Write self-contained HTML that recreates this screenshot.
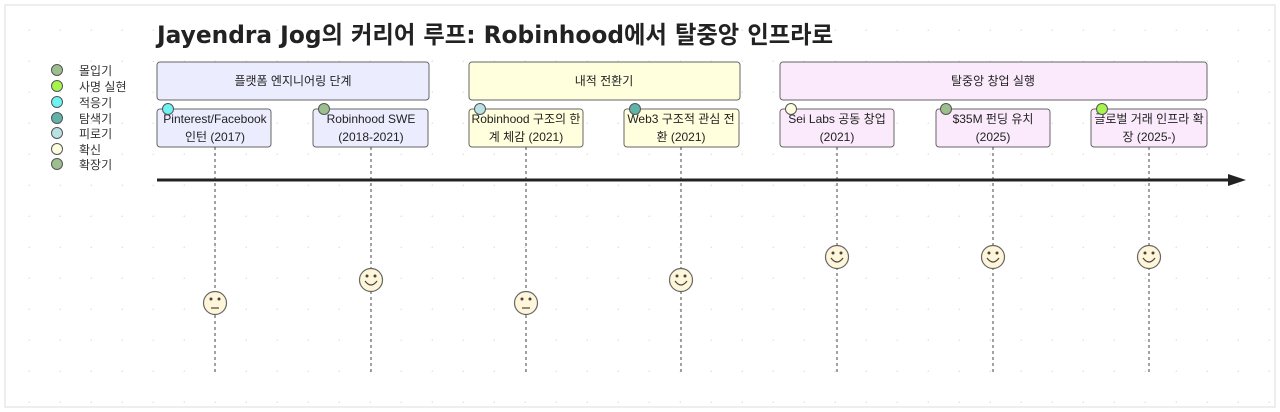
<!DOCTYPE html>
<html><head><meta charset="utf-8"><style>
html,body{margin:0;padding:0;background:#fff;}
svg{display:block;font-family:"Liberation Sans","Noto Sans CJK KR",sans-serif;}
</style></head><body>
<svg width="1280" height="412" viewBox="0 0 1280 412" xmlns="http://www.w3.org/2000/svg">
<defs>
<pattern id="dots" x="-1" y="0" width="31" height="31" patternUnits="userSpaceOnUse">
<circle cx="31" cy="31" r="1.6" fill="#e3e3e3"/>
</pattern>
</defs>
<rect x="0" y="0" width="1280" height="412" fill="#fff"/>
<rect x="5" y="5" width="1270" height="402" fill="url(#dots)" stroke="#ddd" stroke-width="1"/>
<text x="157" y="43" font-size="24" font-weight="bold" fill="#222" textLength="676" lengthAdjust="spacingAndGlyphs" font-family="'DejaVu Sans','Noto Sans CJK KR',sans-serif">Jayendra Jog의 커리어 루프: Robinhood에서 탈중앙 인프라로</text>

<g font-size="12" fill="#333" stroke="#555" stroke-width="1">
<circle cx="57" cy="70" r="5.5" fill="#9dbf8f"/>
<circle cx="57" cy="86" r="5.5" fill="#a6f54d"/>
<circle cx="57" cy="102" r="5.5" fill="#6ef3f3"/>
<circle cx="57" cy="118" r="5.5" fill="#5fb3a8"/>
<circle cx="57" cy="133" r="5.5" fill="#b8e2e6"/>
<circle cx="57" cy="149" r="5.5" fill="#fffde0"/>
<circle cx="57" cy="164" r="5.5" fill="#9dbf8f"/>
</g>
<g font-size="12" fill="#333">
<text x="79" y="75">몰입기</text>
<text x="79" y="91">사명 실현</text>
<text x="79" y="107">적응기</text>
<text x="79" y="123">탐색기</text>
<text x="79" y="138">피로기</text>
<text x="79" y="154">확신</text>
<text x="79" y="169">확장기</text>
</g>

<g stroke="#666" stroke-width="1" font-size="11" fill="#333" text-anchor="middle">
<rect x="157" y="62" width="272" height="38" rx="3" fill="#ececff"/>
<rect x="469" y="62" width="271" height="38" rx="3" fill="#ffffde"/>
<rect x="780" y="62" width="427" height="38" rx="3" fill="#fbeafb"/>
<rect x="157" y="109" width="114" height="38" rx="3" fill="#ececff"/>
<rect x="313" y="109" width="115" height="38" rx="3" fill="#ececff"/>
<rect x="469" y="109" width="114" height="38" rx="3" fill="#ffffde"/>
<rect x="624" y="109" width="115" height="38" rx="3" fill="#ffffde"/>
<rect x="780" y="109" width="114" height="38" rx="3" fill="#fbeafb"/>
<rect x="936" y="109" width="114" height="38" rx="3" fill="#fbeafb"/>
<rect x="1091" y="109" width="116" height="38" rx="3" fill="#fbeafb"/>
</g>
<g font-size="12" fill="#222" text-anchor="middle">
<text x="293" y="85">플랫폼 엔지니어링 단계</text>
<text x="604" y="85">내적 전환기</text>
<text x="993" y="85">탈중앙 창업 실행</text>
<text x="215" y="123">Pinterest/Facebook</text><text x="215" y="141">인턴 (2017)</text>
<text x="371" y="123">Robinhood SWE</text><text x="371" y="141">(2018-2021)</text>
<text x="526" y="123">Robinhood 구조의 한</text><text x="526" y="141">계 체감 (2021)</text>
<text x="681" y="123">Web3 구조적 관심 전</text><text x="681" y="141">환 (2021)</text>
<text x="837" y="123">Sei Labs 공동 창업</text><text x="837" y="141">(2021)</text>
<text x="993" y="123">$35M 펀딩 유치</text><text x="993" y="141">(2025)</text>
<text x="1149" y="123">글로벌 거래 인프라 확</text><text x="1149" y="141">장 (2025-)</text>
</g>
<g stroke="#555" stroke-width="1">
<circle cx="168" cy="109" r="5.5" fill="#6ef3f3"/>
<circle cx="324" cy="109" r="5.5" fill="#9dbf8f"/>
<circle cx="480" cy="109" r="5.5" fill="#b8e2e6"/>
<circle cx="635" cy="109" r="5.5" fill="#5fb3a8"/>
<circle cx="791" cy="109" r="5.5" fill="#fffde0"/>
<circle cx="946" cy="109" r="5.5" fill="#9dbf8f"/>
<circle cx="1102" cy="109" r="5.5" fill="#a6f54d"/>
</g>
<g stroke="#444" stroke-width="1" stroke-dasharray="3,3">
<line x1="215" y1="147" x2="215" y2="372"/>
<line x1="371" y1="147" x2="371" y2="372"/>
<line x1="526" y1="147" x2="526" y2="372"/>
<line x1="681" y1="147" x2="681" y2="372"/>
<line x1="837" y1="147" x2="837" y2="372"/>
<line x1="993" y1="147" x2="993" y2="372"/>
<line x1="1149" y1="147" x2="1149" y2="372"/>
</g>
<line x1="157" y1="180" x2="1230" y2="180" stroke="#222" stroke-width="3"/>
<polygon points="1228,174 1246,180 1228,186" fill="#222"/>

<g stroke="#666" stroke-width="1.2" fill="#fff5d8">
<circle cx="215" cy="303" r="11.5"/>
<circle cx="371" cy="280" r="11.5"/>
<circle cx="526" cy="303" r="11.5"/>
<circle cx="681" cy="280" r="11.5"/>
<circle cx="837" cy="257" r="11.5"/>
<circle cx="993" cy="257" r="11.5"/>
<circle cx="1149" cy="257" r="11.5"/>
</g>
<g fill="#444">
<circle cx="211" cy="299" r="1.5"/><circle cx="219" cy="299" r="1.5"/>
<circle cx="367" cy="276" r="1.5"/><circle cx="375" cy="276" r="1.5"/>
<circle cx="522" cy="299" r="1.5"/><circle cx="530" cy="299" r="1.5"/>
<circle cx="677" cy="276" r="1.5"/><circle cx="685" cy="276" r="1.5"/>
<circle cx="833" cy="253" r="1.5"/><circle cx="841" cy="253" r="1.5"/>
<circle cx="989" cy="253" r="1.5"/><circle cx="997" cy="253" r="1.5"/>
<circle cx="1145" cy="253" r="1.5"/><circle cx="1153" cy="253" r="1.5"/>
</g>
<g stroke="#444" stroke-width="1.2" fill="none">
<line x1="211" y1="308" x2="219" y2="308"/>
<line x1="522" y1="308" x2="530" y2="308"/>
<path d="M365,281 Q371,289 377,281"/>
<path d="M675,281 Q681,289 687,281"/>
<path d="M831,258 Q837,266 843,258"/>
<path d="M987,258 Q993,266 999,258"/>
<path d="M1143,258 Q1149,266 1155,258"/>
</g>
</svg>
</body></html>
